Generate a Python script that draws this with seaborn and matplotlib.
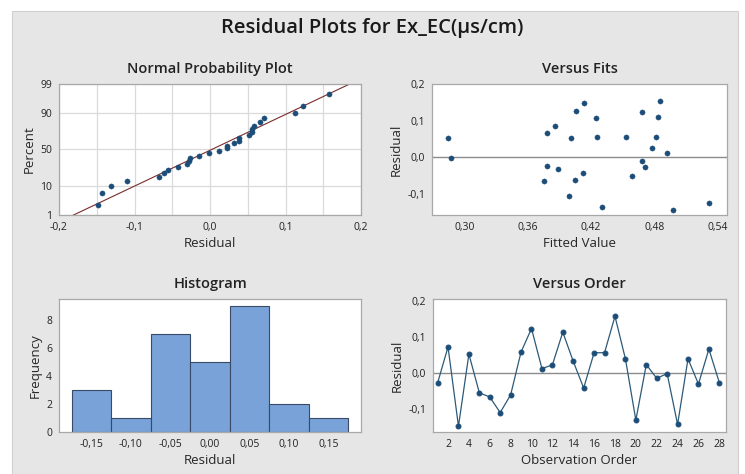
import matplotlib
matplotlib.use('Agg')
import matplotlib.pyplot as plt
from matplotlib.patches import Rectangle
from matplotlib.ticker import FuncFormatter
import numpy as np
import pandas as pd
import seaborn as sns
from statistics import NormalDist

sns.set_theme(style='white')
plt.rcParams['font.family'] = ['Open Sans', 'DejaVu Sans']
plt.rcParams['axes.unicode_minus'] = False

order = list(range(1, 29))
residuals = [-0.028, 0.072, -0.148, 0.052, -0.055, -0.067, -0.110, -0.061,
             0.058, 0.123, 0.012, 0.022, 0.113, 0.032, -0.042, 0.056,
             0.056, 0.157, 0.039, -0.131, 0.023, -0.015, -0.002, -0.143,
             0.039, -0.031, 0.066, -0.027]

# "Versus Fits" panel, read as drawn
fitted = [0.284, 0.287, 0.378, 0.386, 0.378, 0.375, 0.389, 0.401, 0.406, 0.413,
          0.405, 0.399, 0.412, 0.425, 0.426, 0.430, 0.453, 0.459, 0.468, 0.468,
          0.471, 0.478, 0.482, 0.483, 0.485, 0.492, 0.498, 0.532]
fit_resid = [0.053, -0.001, 0.066, 0.086, -0.024, -0.065, -0.031, 0.053, 0.127, 0.147,
             -0.062, -0.105, -0.042, 0.107, 0.056, -0.135, 0.056, -0.052, 0.123, -0.011,
             -0.027, 0.026, 0.056, 0.110, 0.154, 0.012, -0.143, -0.125]

hist_edges = [-0.175, -0.125, -0.075, -0.025, 0.025, 0.075, 0.125, 0.175]

PT = '#1c4d78'
LINE = '#2c5a78'
BG = '#e6e6e6'
SPINE = '#a8a8a8'


def comma(fmt):
    return FuncFormatter(lambda v, p: (fmt % v).replace('.', ','))


def style_ax(ax):
    for s in ax.spines.values():
        s.set_color(SPINE)
        s.set_linewidth(0.9)
    ax.tick_params(labelsize=7.5, length=3, width=0.6, color='#808080',
                   colors='#222222', pad=2)
    ax.tick_params(axis='both', which='both', direction='out')
    ax.xaxis.label.set_size(9.5)
    ax.yaxis.label.set_size(9.5)
    ax.xaxis.labelpad = 3
    ax.yaxis.labelpad = 3
    ax.set_facecolor('white')


def title(ax, s):
    ax.set_title(s, fontsize=10.5, fontweight='semibold', pad=8, color='#222222')


def main():
    fig = plt.figure(figsize=(7.45, 4.74), dpi=100)
    fig.patch.set_facecolor('white')
    bg = Rectangle((12 / 745, 0), 726 / 745, 463 / 474,
                   transform=fig.transFigure, facecolor=BG,
                   edgecolor='#d0d0d0', lw=0.8, zorder=-5)
    fig.add_artist(bg)
    fig.text(0.5, 0.940, 'Residual Plots for Ex_EC(µs/cm)', ha='center',
             va='center', fontsize=14.5, fontweight='semibold', color='#1a1a1a')

    ax1 = fig.add_axes([0.0792, 0.5464, 0.4054, 0.2764])
    ax2 = fig.add_axes([0.5799, 0.5464, 0.3960, 0.2764])
    ax3 = fig.add_axes([0.0792, 0.0886, 0.4054, 0.2806])
    ax4 = fig.add_axes([0.5812, 0.0886, 0.3933, 0.2806])

    # normal probability plot
    nd = NormalDist()
    r = np.sort(np.array(residuals))
    n = len(r)
    pos = [(i + 1 - 0.3) / (n + 0.4) for i in range(n)]
    z = [nd.inv_cdf(p) for p in pos]
    mu, sd = r.mean(), r.std(ddof=1)
    zl = np.array([-3.0, 3.0])
    line_df = pd.DataFrame({'x': mu + sd * zl, 'z': zl})
    sns.lineplot(data=line_df, x='x', y='z', ax=ax1, color='#7a2b2b', lw=0.8)
    sns.scatterplot(x=r, y=z, ax=ax1, color=PT, s=14, edgecolor=PT, linewidth=0.3, zorder=3)
    pticks = [1, 10, 50, 90, 99]
    ax1.set_yticks([nd.inv_cdf(p / 100) for p in pticks])
    ax1.set_yticklabels([str(p) for p in pticks])
    ax1.set_ylim(nd.inv_cdf(0.01), nd.inv_cdf(0.99))
    ax1.set_xlim(-0.2, 0.2)
    ax1.set_xticks([-0.2, -0.1, 0.0, 0.1, 0.2])
    ax1.set_xticks(np.arange(-0.15, 0.2, 0.1), minor=True)
    ax1.xaxis.set_major_formatter(comma('%.1f'))
    ax1.grid(True, which='both', color='#dadada', lw=0.9)
    ax1.set_xlabel('Residual')
    ax1.set_ylabel('Percent')
    title(ax1, 'Normal Probability Plot')
    ax1.set_axisbelow(True)

    # versus fits
    ax2.axhline(0, color='#8c8c8c', lw=1, zorder=1)
    sns.scatterplot(x=fitted, y=fit_resid, ax=ax2, color=PT, s=14, edgecolor=PT,
                    linewidth=0.3, zorder=3)
    ax2.set_xlim(0.269, 0.549)
    ax2.set_ylim(-0.158, 0.2)
    ax2.set_xticks([0.30, 0.36, 0.42, 0.48, 0.54])
    ax2.set_yticks([-0.1, 0.0, 0.1, 0.2])
    ax2.xaxis.set_major_formatter(comma('%.2f'))
    ax2.yaxis.set_major_formatter(comma('%.1f'))
    ax2.set_xlabel('Fitted Value')
    ax2.set_ylabel('Residual')
    title(ax2, 'Versus Fits')

    # histogram
    sns.histplot(x=residuals, bins=hist_edges, ax=ax3, color='#78a2d8',
                 edgecolor='#3a4a66', linewidth=0.8, alpha=1)
    ax3.set_xlim(-0.191, 0.191)
    ax3.set_ylim(0, 9.5)
    ax3.set_xticks([-0.15, -0.10, -0.05, 0.0, 0.05, 0.10, 0.15])
    ax3.set_yticks([0, 2, 4, 6, 8])
    ax3.xaxis.set_major_formatter(comma('%.2f'))
    ax3.set_xlabel('Residual')
    ax3.set_ylabel('Frequency')
    title(ax3, 'Histogram')

    # versus order
    ax4.axhline(0, color='#8c8c8c', lw=1, zorder=1)
    sns.lineplot(x=order, y=residuals, ax=ax4, color=LINE, lw=0.9, marker='o',
                 markersize=3.5, markeredgecolor=PT, markerfacecolor=PT, zorder=3)
    ax4.set_xlim(0.56, 28.64)
    ax4.set_ylim(-0.164, 0.205)
    ax4.set_xticks(range(2, 29, 2))
    ax4.set_yticks([-0.1, 0.0, 0.1, 0.2])
    ax4.yaxis.set_major_formatter(comma('%.1f'))
    ax4.set_xlabel('Observation Order')
    ax4.set_ylabel('Residual')
    title(ax4, 'Versus Order')

    for ax in (ax1, ax2, ax3, ax4):
        style_ax(ax)
    ax1.tick_params(which='minor', length=0)

    fig.savefig('out.png', dpi=100)


if __name__ == '__main__':
    main()
